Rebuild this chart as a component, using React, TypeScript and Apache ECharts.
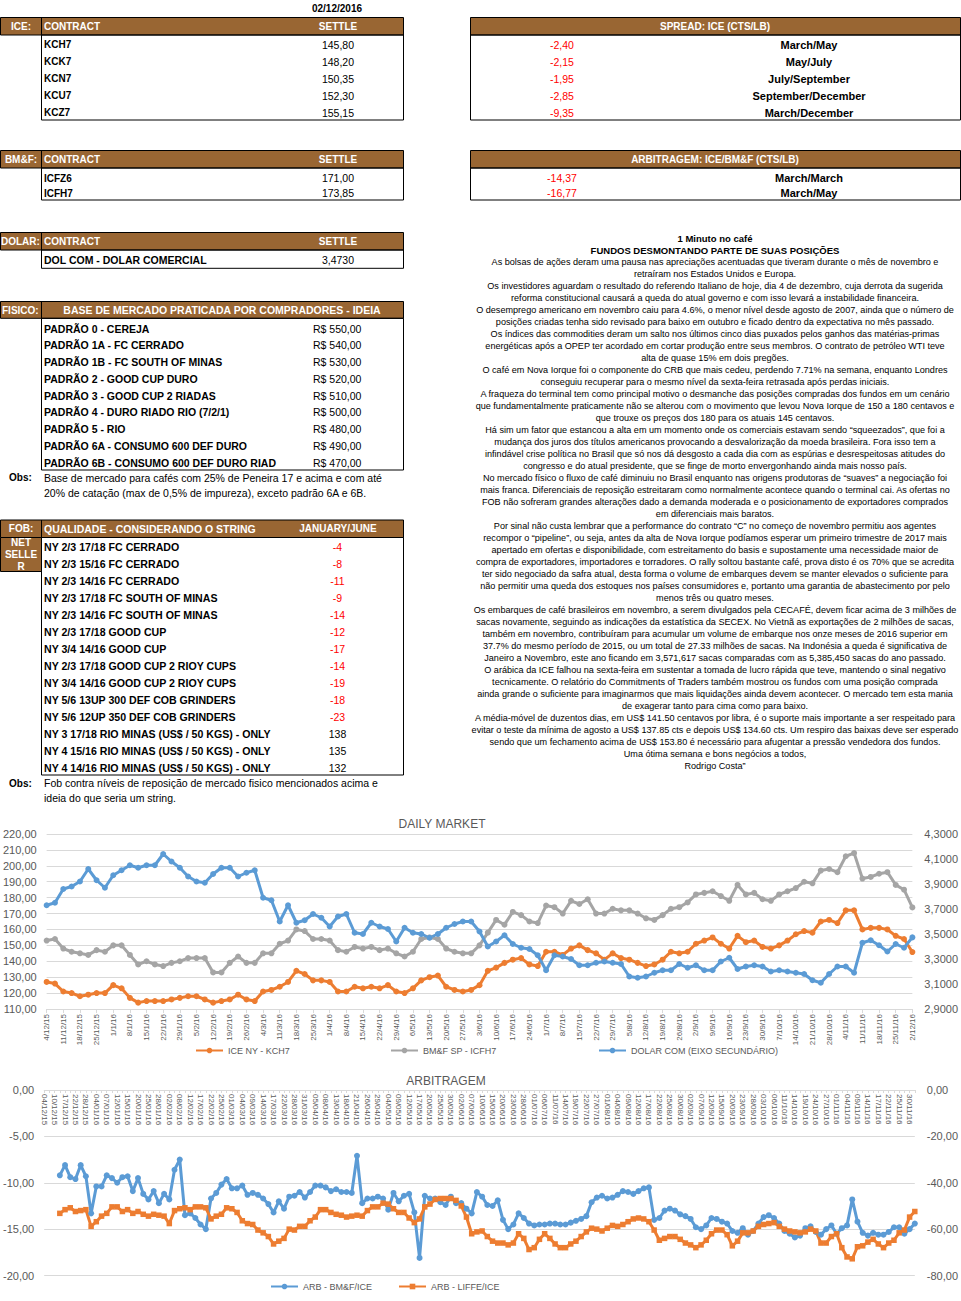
import React, { useEffect, useRef } from "react";
import * as echarts from "echarts";

const FONT = '"Liberation Sans", Arial, Helvetica, sans-serif';
const BROWN = "#996633";
const RED = "#ff0000";
const AXIS_TEXT = "#595959";
const GRID_LINE = "#d9d9d9";
const C_ORANGE = "#ed7d31";
const C_GRAY = "#a5a5a5";
const C_BLUE = "#5b9bd5";

const REPORT_DATE = "02/12/2016";

const ICE_CONTRACTS = ["KCH7", "KCK7", "KCN7", "KCU7", "KCZ7"];
const ICE_SETTLES = ["145,80", "148,20", "150,35", "152,30", "155,15"];
const SPREAD_VALUES = ["-2,40", "-2,15", "-1,95", "-2,85", "-9,35"];
const SPREAD_LABELS = ["March/May", "May/July", "July/September", "September/December", "March/December"];
const BMF_CONTRACTS = ["ICFZ6", "ICFH7"];
const BMF_SETTLES = ["171,00", "173,85"];
const ARB_TABLE_VALUES = ["-14,37", "-16,77"];
const ARB_TABLE_LABELS = ["March/March", "March/May"];
const DOLAR_CONTRACTS = ["DOL COM - DOLAR COMERCIAL"];
const DOLAR_SETTLES = ["3,4730"];

const FISICO_TYPES = [
  "PADRÃO 0 - CEREJA",
  "PADRÃO 1A - FC CERRADO",
  "PADRÃO 1B - FC SOUTH OF MINAS",
  "PADRÃO 2 - GOOD CUP DURO",
  "PADRÃO 3 - GOOD CUP 2 RIADAS",
  "PADRÃO 4 - DURO RIADO RIO (7/2/1)",
  "PADRÃO 5 - RIO",
  "PADRÃO 6A - CONSUMO 600 DEF DURO",
  "PADRÃO 6B - CONSUMO 600 DEF DURO RIADO",
];
const FISICO_PRICES = [550, 540, 530, 520, 510, 500, 480, 490, 470];
const FISICO_OBS = [
  "Base de mercado para cafés com 25% de Peneira 17 e acima e com até",
  "20% de catação (max de 0,5% de impureza), exceto padrão 6A e 6B.",
];

const FOB_QUALITIES = [
  "NY 2/3 17/18 FC CERRADO",
  "NY 2/3 15/16 FC CERRADO",
  "NY 2/3 14/16 FC CERRADO",
  "NY 2/3 17/18 FC SOUTH OF MINAS",
  "NY 2/3 14/16 FC SOUTH OF MINAS",
  "NY 2/3 17/18 GOOD CUP",
  "NY 3/4 14/16 GOOD CUP",
  "NY 2/3 17/18 GOOD CUP 2 RIOY CUPS",
  "NY 3/4 14/16 GOOD CUP 2 RIOY CUPS",
  "NY 5/6 13UP 300 DEF COB GRINDERS",
  "NY 5/6 12UP 350 DEF COB GRINDERS",
  "NY 3 17/18 RIO MINAS (US$ / 50 KGS) - ONLY",
  "NY 4 15/16 RIO MINAS (US$ / 50 KGS) - ONLY",
  "NY 4 14/16 RIO MINAS (US$ / 50 KGS) - ONLY",
];
const FOB_DIFFS = [-4, -8, -11, -9, -14, -12, -17, -14, -19, -18, -23, 138, 135, 132];
const FOB_OBS = [
  "Fob contra níveis de reposição de mercado fisico mencionados acima e",
  "ideia do que seria um string.",
];

const NEWS_TITLE = ["1 Minuto no café", "FUNDOS DESMONTANDO PARTE DE SUAS POSIÇÕES"];
const NEWS_LINES = [
  "As bolsas de ações deram uma pausa nas apreciações acentuadas que tiveram durante o mês de novembro e",
  "retraíram nos Estados Unidos e Europa.",
  "Os investidores aguardam o resultado do referendo Italiano de hoje, dia 4 de dezembro, cuja derrota da sugerida",
  "reforma constitucional causará a queda do atual governo e com isso levará a instabilidade financeira.",
  "O desemprego americano em novembro caiu para 4.6%, o menor nível desde agosto de 2007, ainda que o número de",
  "posições criadas tenha sido revisado para baixo em outubro e ficado dentro da expectativa no mês passado.",
  "Os índices das commodities deram um salto nos últimos cinco dias puxados pelos ganhos das matérias-primas",
  "energéticas após a OPEP ter acordado em cortar produção entre seus membros. O contrato de petróleo WTI teve",
  "alta de quase 15% em dois pregões.",
  "O café em Nova Iorque foi o componente do CRB que mais cedeu, perdendo 7.71% na semana, enquanto Londres",
  "conseguiu recuperar para o mesmo nível da sexta-feira retrasada após perdas iniciais.",
  "A fraqueza do terminal tem como principal motivo o desmanche das posições compradas dos fundos em um cenário",
  "que fundamentalmente praticamente não se alterou com o movimento que levou Nova Iorque de 150 a 180 centavos e",
  "que trouxe os preços dos 180 para os atuais 145 centavos.",
  "Há sim um fator que estancou a alta em um momento onde os comerciais estavam sendo “squeezados”, que foi a",
  "mudança dos juros dos títulos americanos provocando a desvalorização da moeda brasileira. Fora isso tem a",
  "infindável crise política no Brasil que só nos dá desgosto a cada dia com as espúrias e desrespeitosas atitudes do",
  "congresso e do atual presidente, que se finge de morto envergonhando ainda mais nosso país.",
  "No mercado físico o fluxo de café diminuiu no Brasil enquanto nas origens produtoras de “suaves” a negociação foi",
  "mais franca. Diferenciais de reposição estreitaram como normalmente acontece quando o terminal cai. As ofertas no",
  "FOB não sofreram grandes alterações dado a demanda moderada e o posicionamento de exportadores comprados",
  "em diferenciais mais baratos.",
  "Por sinal não custa lembrar que a performance do contrato “C” no começo de novembro permitiu aos agentes",
  "recompor o “pipeline”, ou seja, antes da alta de Nova Iorque podíamos esperar um primeiro trimestre de 2017 mais",
  "apertado em ofertas e disponibilidade, com estreitamento do basis e supostamente uma necessidade maior de",
  "compra de exportadores, importadores e torradores. O rally soltou bastante café, prova disto é os 70% que se acredita",
  "ter sido negociado da safra atual, desta forma o volume de embarques devem se manter elevados o suficiente para",
  "não permitir uma queda dos estoques nos países consumidores e, portanto uma garantia de abastecimento por pelo",
  "menos três ou quatro meses.",
  "Os embarques de café brasileiros em novembro, a serem divulgados pela CECAFÉ, devem ficar acima de 3 milhões de",
  "sacas novamente, seguindo as indicações da estatística da SECEX. No Vietnã as exportações de 2 milhões de sacas,",
  "também em novembro, contribuíram para acumular um volume de embarque nos onze meses de 2016 superior em",
  "37.7% do mesmo período de 2015, ou um total de 27.33 milhões de sacas. Na Indonésia a queda é significativa de",
  "Janeiro a Novembro, este ano ficando em 3,571,617 sacas comparadas com as 5,385,450 sacas do ano passado.",
  "O arábica da ICE falhou na sexta-feira em sustentar a tomada de lucro rápida que teve, mantendo o sinal negativo",
  "tecnicamente. O relatório do Commitments of Traders também mostrou os fundos com uma posição comprada",
  "ainda grande o suficiente para imaginarmos que mais liquidações ainda devem acontecer. O mercado tem esta mania",
  "de exagerar tanto para cima como para baixo.",
  "A média-móvel de duzentos dias, em US$ 141.50 centavos por libra, é o suporte mais importante a ser respeitado para",
  "evitar o teste da mínima de agosto a US$ 137.85 cts e depois US$ 134.60 cts. Um respiro das baixas deve ser esperado",
  "sendo que um fechamento acima de US$ 153.80 é necessário para afugentar a pressão vendedora dos fundos.",
  "Uma ótima semana e bons negócios a todos,",
  "Rodrigo Costa”",
];

// ---------- DAILY MARKET (samples twice a week, from 4/12/15) ----------
const DAILY_START_UTC = Date.UTC(2015, 11, 4);
const DAILY_SAMPLE_STEP_DAYS = 3.5;
const DAILY_SPAN_DAYS = 364;

const ICE_KCH7 = [
  127, 126, 121, 120, 118, 119, 120, 120, 125, 123,
  117, 114, 115, 115, 115, 116, 117, 118, 118, 116,
  114, 115, 116, 119, 116, 115, 121, 122, 124, 127,
  134, 132, 128, 128, 127, 121, 121, 124, 123, 124,
  123, 125, 121, 120, 123, 128, 130, 131, 124, 122,
  121, 122, 125, 134, 136, 139, 141, 142, 138, 137,
  146, 146, 144, 148, 150, 147, 145, 141, 145, 142,
  141, 139, 137, 138, 141, 146, 145, 146, 151, 153,
  155, 151, 148, 156, 152, 153, 149, 148, 150, 153,
  157, 159, 158, 165, 166, 164, 172, 172, 160, 161,
  161, 160, 156, 154, 145.8,
];
const BMF_ICFH7 = [
  153, 154, 148, 146, 145, 144, 147, 146, 150, 150,
  144, 138, 140, 138, 137, 139, 140, 142, 142, 142,
  133, 133, 139, 143, 139, 139, 145, 145, 151, 153,
  160, 159, 154, 154, 153, 147, 146, 149, 148, 149,
  147, 148, 145, 143, 146, 154, 155, 154, 148, 146,
  145, 145, 150, 158, 166, 163, 171, 169, 165, 164,
  175, 174, 170, 178, 176, 179, 170, 170, 173, 172,
  172, 170, 167, 166, 169, 173, 174, 177, 182, 183,
  184, 181, 178, 188, 182, 183, 179, 178, 182, 184,
  186, 190, 189, 197, 198, 196, 206, 208, 192, 193,
  195, 196, 188, 185, 173.85,
];
const DOLAR_COM = [
  3.73, 3.75, 3.86, 3.88, 3.92, 4.02, 3.93, 3.87, 3.97, 4.01,
  4.05, 4.03, 4.05, 4.05, 4.14, 4.08, 4.03, 3.96, 3.92, 3.91,
  3.98, 4.03, 4.03, 3.96, 3.99, 4.01, 3.79, 3.77, 3.60, 3.73,
  3.59, 3.61, 3.66, 3.63, 3.56, 3.64, 3.66, 3.51, 3.50, 3.59,
  3.56, 3.54, 3.44, 3.55, 3.51, 3.50, 3.47, 3.50, 3.55, 3.58,
  3.60, 3.60, 3.52, 3.40, 3.44, 3.49, 3.42, 3.39, 3.38, 3.33,
  3.21, 3.33, 3.32, 3.30, 3.25, 3.25, 3.27, 3.28, 3.27, 3.26,
  3.16, 3.15, 3.16, 3.19, 3.21, 3.21, 3.26, 3.23, 3.25, 3.21,
  3.21, 3.28, 3.31, 3.22, 3.24, 3.25, 3.24, 3.20, 3.21, 3.20,
  3.19, 3.18, 3.13, 3.11, 3.18, 3.24, 3.24, 3.19, 3.43, 3.45,
  3.41, 3.36, 3.42, 3.39, 3.473,
];

// ---------- ARBITRAGEM ----------
const ARB_DATES = [
  "04/12/15", "10/12/15", "17/12/15", "22/12/15", "28/12/15", "04/01/16", "07/01/16", "12/01/16", "15/01/16", "20/01/16",
  "25/01/16", "28/01/16", "02/02/16", "08/02/16", "12/02/16", "17/02/16", "22/02/16", "25/02/16", "01/03/16", "04/03/16",
  "09/03/16", "14/03/16", "17/03/16", "22/03/16", "28/03/16", "31/03/16", "05/04/16", "08/04/16", "13/04/16", "18/04/16",
  "21/04/16", "26/04/16", "29/04/16", "04/05/16", "09/05/16", "12/05/16", "17/05/16", "20/05/16", "25/05/16", "30/05/16",
  "02/06/16", "07/06/16", "10/06/16", "15/06/16", "20/06/16", "23/06/16", "28/06/16", "01/07/16", "06/07/16", "11/07/16",
  "14/07/16", "19/07/16", "22/07/16", "27/07/16", "01/08/16", "04/08/16", "09/08/16", "12/08/16", "17/08/16", "22/08/16",
  "25/08/16", "30/08/16", "02/09/16", "07/09/16", "12/09/16", "15/09/16", "20/09/16", "23/09/16", "28/09/16", "03/10/16",
  "06/10/16", "11/10/16", "14/10/16", "19/10/16", "24/10/16", "27/10/16", "01/11/16", "04/11/16", "09/11/16", "14/11/16",
  "17/11/16", "22/11/16", "25/11/16", "30/11/16",
];
// one unlabeled session between labelled ones
const ARB_BMF_ICE = [
  null, null, null, -9.2, -8.1, -9.4, -9.6, -8.1, -9.3, -13.3,
  -10.4, -10.4, -9.2, -9.5, -10.0, -9.4, -9.3, -10.9, -9.5, -11.2,
  -11.8, -10.9, -12.2, -11.2, -11.8, -8.6, -7.5, -13.5, -13.3, -13.8,
  -14.5, -15.0, -11.7, -11.1, -10.2, -9.6, -10.6, -10.6, -10.3, -11.3,
  -11.1, -11.3, -11.7, -12.3, -13.2, -12.0, -12.8, -11.5, -11.4, -11.0,
  -11.6, -11.0, -10.3, -10.3, -10.5, -10.9, -10.7, -11.0, -11.0, -11.1,
  -7.1, -12.2, -11.7, -11.7, -11.5, -11.7, -12.9, -11.1, -12.0, -11.4,
  -11.2, -13.2, -18.1, -11.4, -11.7, -11.7, -12.1, -12.4, -11.5, -12.2,
  -12.2, -12.8, -13.3, -11.0, -11.5, -12.4, -12.5, -11.9, -14.0, -15.0,
  -14.5, -13.3, -13.8, -14.4, -14.6, -14.5, -14.5, -14.4, -14.4, -14.5,
  -14.5, -14.3, -14.1, -13.9, -13.6, -12.1, -11.6, -11.4, -11.7, -11.6,
  -11.3, -10.9, -11.0, -11.2, -10.9, -10.6, -10.5, -14.0, -13.8, -13.0,
  -12.8, -13.0, -13.4, -13.6, -13.9, -14.8, -15.0, -14.6, -13.8, -13.9,
  -14.2, -14.4, -15.2, -15.4, -14.9, -15.6, -15.2, -14.4, -13.7, -13.5,
  -13.8, -14.4, -15.2, -15.5, -15.9, -15.7, -14.9, -14.7, -15.3, -15.6,
  -15.0, -14.6, -15.5, -14.9, -14.6, -11.8, -14.2, -15.4, -15.7, -15.4,
  -15.6, -15.6, -15.3, -14.8, -14.8, -15.5, -15.0, -14.4,
];
const ARB_LIFFE_ICE = [
  null, null, null, -53.2, -51.6, -50.8, -52.4, -52.0, -51.6, -58.8,
  -56.8, -54.4, -53.2, -50.4, -50.4, -52.4, -51.6, -53.2, -52.4, -53.6,
  -54.4, -53.6, -54.0, -54.4, -57.6, -52.0, -51.2, -50.8, -51.6, -50.4,
  -50.4, -50.8, -55.6, -54.4, -53.6, -50.8, -51.2, -52.8, -56.4, -57.6,
  -58.0, -60.4, -61.6, -63.2, -66.4, -65.2, -64.0, -60.0, -60.4, -58.8,
  -58.8, -56.4, -54.8, -51.6, -51.6, -52.8, -53.6, -54.0, -54.8, -54.4,
  -54.0, -54.4, -52.0, -50.4, -50.4, -48.8, -49.2, -51.2, -52.8, -52.8,
  -55.2, -57.2, -55.6, -50.4, -49.2, -47.2, -46.8, -46.8, -46.8, -47.6,
  -50.0, -54.8, -62.0, -61.2, -60.8, -63.2, -65.2, -66.0, -66.0, -66.8,
  -66.0, -62.0, -64.0, -68.8, -68.0, -64.4, -62.0, -64.0, -66.4, -68.0,
  -68.0, -66.4, -65.2, -63.2, -61.2, -59.6, -60.0, -60.8, -59.6, -58.4,
  -58.8, -58.0, -56.8, -55.6, -55.2, -55.6, -56.8, -60.4, -64.8, -64.0,
  -63.2, -63.2, -64.4, -66.0, -66.8, -68.0, -66.8, -64.8, -62.0, -60.4,
  -60.4, -62.4, -67.2, -65.2, -61.6, -61.6, -60.8, -58.8, -58.0, -57.6,
  -57.2, -58.8, -60.0, -60.8, -61.2, -61.6, -61.2, -60.0, -60.8, -66.0,
  -66.0, -63.2, -62.0, -68.0, -72.0, -72.8, -67.6, -67.2, -65.6, -64.4,
  -66.4, -68.0, -66.0, -64.8, -61.6, -60.4, -54.8, -52.4,
];

// ---------- helpers ----------
const fmtComma = (v: number, d: number) => v.toFixed(d).replace(".", ",");
const fmtDay = (v: number) => {
  const d = new Date(DAILY_START_UTC + Math.round(v) * 86400000);
  return `${d.getUTCDate()}/${d.getUTCMonth() + 1}/${String(d.getUTCFullYear()).slice(2)}`;
};

type TOpt = { size?: number; bold?: boolean; fill?: string; align?: string; width?: number };

function buildGraphics() {
  const rects: any[] = [];
  const texts: any[] = [];
  const R = (x: number, y: number, w: number, h: number, fill: string, stroke?: string) =>
    rects.push({
      type: "rect",
      silent: true,
      shape: { x, y, width: w, height: h },
      style: { fill, stroke: stroke || null, lineWidth: 1 },
    });
  const L = (x1: number, y1: number, x2: number, y2: number, stroke = "#000") =>
    rects.push({ type: "line", silent: true, shape: { x1, y1, x2, y2 }, style: { stroke, lineWidth: 1 } });
  const T = (text: string, x: number, y: number, o: TOpt = {}) => {
    const style: any = {
      text,
      fill: o.fill || "#000",
      fontSize: o.size || 10,
      fontWeight: o.bold ? "bold" : "normal",
      fontFamily: FONT,
      align: o.align || "left",
      verticalAlign: "middle",
    };
    if (o.width) {
      style.width = o.width;
      style.overflow = "truncate";
      style.ellipsis = "";
    }
    texts.push({ type: "text", silent: true, x, y, style });
  };
  const W = "#ffffff";

  // date
  T(REPORT_DATE, 337, 8, { bold: true, align: "center" });

  // ICE table
  R(0.5, 17.5, 403, 17.5, BROWN, "#000");
  L(41.5, 17.5, 41.5, 35);
  R(41.5, 35, 362, 85, "none", "#000");
  T("ICE:", 21, 26.3, { bold: true, fill: W, align: "center" });
  T("CONTRACT", 44, 26.3, { bold: true, fill: W });
  T("SETTLE", 338, 26.3, { bold: true, fill: W, align: "center" });
  ICE_CONTRACTS.forEach((c, i) => {
    const y = 44.5 + 17 * i;
    T(c, 44, y, { bold: true });
    T(ICE_SETTLES[i], 338, y, { size: 10.5, align: "center" });
  });

  // Spread table
  R(470.5, 17.5, 490, 17.5, BROWN, "#000");
  R(470.5, 35, 490, 85, "none", "#000");
  T("SPREAD: ICE (CTS/LB)", 715, 26.3, { bold: true, fill: W, align: "center" });
  SPREAD_VALUES.forEach((v, i) => {
    const y = 44.5 + 17 * i;
    T(v, 562, y, { size: 10.5, fill: RED, align: "center" });
    T(SPREAD_LABELS[i], 809, y, { bold: true, size: 11, align: "center" });
  });

  // BM&F table
  R(0.5, 150.5, 403, 17.5, BROWN, "#000");
  L(41.5, 150.5, 41.5, 168);
  R(41.5, 168, 362, 32, "none", "#000");
  T("BM&F:", 21, 159.3, { bold: true, fill: W, align: "center" });
  T("CONTRACT", 44, 159.3, { bold: true, fill: W });
  T("SETTLE", 338, 159.3, { bold: true, fill: W, align: "center" });
  BMF_CONTRACTS.forEach((c, i) => {
    const y = 178.3 + 15 * i;
    T(c, 44, y, { bold: true });
    T(BMF_SETTLES[i], 338, y, { size: 10.5, align: "center" });
  });

  // Arbitragem table
  R(470.5, 150.5, 490, 17.5, BROWN, "#000");
  R(470.5, 168, 490, 32, "none", "#000");
  T("ARBITRAGEM: ICE/BM&F (CTS/LB)", 715, 159.3, { bold: true, fill: W, align: "center" });
  ARB_TABLE_VALUES.forEach((v, i) => {
    const y = 178.3 + 14.5 * i;
    T(v, 562, y, { size: 10.5, fill: RED, align: "center" });
    T(ARB_TABLE_LABELS[i], 809, y, { bold: true, size: 11, align: "center" });
  });

  // Dolar table
  R(0.5, 232.5, 403, 17.5, BROWN, "#000");
  L(41.5, 232.5, 41.5, 250);
  R(41.5, 250, 362, 18.3, "none", "#000");
  T("DOLAR:", 1, 241.3, { bold: true, fill: W });
  T("CONTRACT", 44, 241.3, { bold: true, fill: W });
  T("SETTLE", 338, 241.3, { bold: true, fill: W, align: "center" });
  DOLAR_CONTRACTS.forEach((c, i) => {
    T(c, 44, 259.5, { bold: true, size: 10.5 });
    T(DOLAR_SETTLES[i], 338, 259.5, { size: 10.5, align: "center" });
  });

  // Fisico table
  R(0.5, 301.5, 403, 16.8, BROWN, "#000");
  L(41.5, 301.5, 41.5, 318.3);
  R(41.5, 318.3, 362, 151.7, "none", "#000");
  T("FISICO:", 2, 310, { bold: true, fill: W });
  T("BASE DE MERCADO PRATICADA POR COMPRADORES - IDEIA", 222, 310, { bold: true, size: 10.5, fill: W, align: "center" });
  FISICO_TYPES.forEach((t, i) => {
    const y = 328.5 + 16.75 * i;
    T(t, 44, y, { bold: true, size: 10.5, width: 236 });
    T("R$ " + fmtComma(FISICO_PRICES[i], 2), 313, y, { size: 10.5 });
  });
  T("Obs:", 9, 477.7, { bold: true });
  FISICO_OBS.forEach((t, i) => T(t, 44, 477.7 + 15 * i, { size: 10.5 }));

  // FOB table
  R(0.5, 520, 403, 17.5, BROWN, "#000");
  L(41.5, 520, 41.5, 537.5);
  R(0.5, 537.5, 41, 34, BROWN, "#000");
  R(41.5, 537.5, 362, 237.5, "none", "#000");
  T("FOB:", 21, 528.8, { bold: true, fill: W, align: "center" });
  T("QUALIDADE - CONSIDERANDO O STRING", 44, 528.8, { bold: true, size: 10.5, fill: W });
  T("JANUARY/JUNE", 338, 528.8, { bold: true, fill: W, align: "center" });
  ["NET", "SELLE", "R"].forEach((t, i) => T(t, 21, 542.7 + 11.7 * i, { bold: true, fill: W, align: "center" }));
  FOB_QUALITIES.forEach((q, i) => {
    const y = 547.3 + 17 * i;
    T(q, 44, y, { bold: true, size: 10.6 });
    const d = FOB_DIFFS[i];
    T(String(d), 337.5, y, { size: 10.5, fill: d < 0 ? RED : "#000", align: "center" });
  });
  T("Obs:", 9, 783.3, { bold: true });
  FOB_OBS.forEach((t, i) => T(t, 44, 783.3 + 15 * i, { size: 10.5 }));

  // News column
  NEWS_TITLE.forEach((t, i) => T(t, 715, 238 + 12 * i, { bold: true, size: 9.5, align: "center" }));
  NEWS_LINES.forEach((t, i) => T(t, 715, 262 + 12 * i, { size: 9.1, align: "center" }));

  // chart titles
  T("DAILY MARKET", 442, 824, { size: 12, fill: AXIS_TEXT, align: "center" });
  T("ARBITRAGEM", 446, 1081, { size: 12, fill: AXIS_TEXT, align: "center" });

  return [...rects, ...texts];
}

function buildOption() {
  const dailyX = (i: number) => i * DAILY_SAMPLE_STEP_DAYS;
  const arbCategories: string[] = [];
  ARB_DATES.forEach((d) => {
    arbCategories.push(d);
    arbCategories.push("");
  });

  const axisLabelBase = { color: AXIS_TEXT, fontFamily: FONT };
  const lineSeries = (name: string, color: string, data: any[], xi: number, yi: number, symbol = "circle") => ({
    name,
    type: "line",
    xAxisIndex: xi,
    yAxisIndex: yi,
    data,
    symbol,
    symbolSize: symbol === "rect" ? 5.5 : 6,
    showSymbol: true,
    showAllSymbol: true,
    connectNulls: false,
    lineStyle: { width: 3, color },
    itemStyle: { color },
    emphasis: { disabled: true },
  });
  const legendBase = {
    padding: 0,
    itemWidth: 27,
    itemHeight: 7,
    selectedMode: false,
    textStyle: { fontSize: 9, color: AXIS_TEXT, fontFamily: FONT },
  };

  return {
    animation: false,
    backgroundColor: "#ffffff",
    textStyle: { fontFamily: FONT },
    grid: [
      { left: 46, top: 834, width: 867, height: 175 },
      { left: 44, top: 1090, width: 871, height: 185.5 },
    ],
    xAxis: [
      {
        type: "value",
        gridIndex: 0,
        min: 0,
        max: DAILY_SPAN_DAYS,
        interval: 7,
        axisLine: { onZero: false, lineStyle: { color: GRID_LINE } },
        axisTick: { show: true, length: 4, lineStyle: { color: GRID_LINE } },
        splitLine: { show: false },
        axisLabel: { ...axisLabelBase, fontSize: 8, rotate: 90, margin: 5, formatter: fmtDay, showMinLabel: true, showMaxLabel: true },
      },
      {
        type: "category",
        gridIndex: 1,
        position: "top",
        data: arbCategories,
        boundaryGap: false,
        axisLine: { onZero: false, lineStyle: { color: GRID_LINE } },
        axisTick: { show: true, inside: true, length: 3, interval: 0, lineStyle: { color: GRID_LINE } },
        splitLine: { show: false },
        axisLabel: { ...axisLabelBase, fontSize: 8, rotate: 90, inside: true, interval: 1, margin: 4 },
      },
    ],
    yAxis: [
      {
        type: "value",
        gridIndex: 0,
        position: "left",
        min: 110,
        max: 220,
        interval: 10,
        axisLine: { show: false, onZero: false },
        axisTick: { show: false },
        splitLine: { lineStyle: { color: GRID_LINE } },
        axisLabel: { ...axisLabelBase, fontSize: 11, margin: 10, formatter: (v: number) => fmtComma(v, 2) },
      },
      {
        type: "value",
        gridIndex: 0,
        position: "right",
        min: 2.9,
        max: 4.3,
        interval: 0.2,
        axisLine: { show: false, onZero: false },
        axisTick: { show: false },
        splitLine: { show: false },
        axisLabel: { ...axisLabelBase, fontSize: 11, margin: 12, formatter: (v: number) => fmtComma(v, 4) },
      },
      {
        type: "value",
        gridIndex: 1,
        position: "left",
        min: -20,
        max: 0,
        interval: 5,
        axisLine: { show: false, onZero: false },
        axisTick: { show: false },
        splitLine: { lineStyle: { color: GRID_LINE } },
        axisLabel: { ...axisLabelBase, fontSize: 11, margin: 10, formatter: (v: number) => fmtComma(v, 2) },
      },
      {
        type: "value",
        gridIndex: 1,
        position: "right",
        min: -80,
        max: 0,
        interval: 20,
        axisLine: { show: false, onZero: false },
        axisTick: { show: false },
        splitLine: { show: false },
        axisLabel: { ...axisLabelBase, fontSize: 11, margin: 12, formatter: (v: number) => fmtComma(v, 2) },
      },
    ],
    legend: [
      { ...legendBase, data: ["ICE NY - KCH7"], left: 195, top: 1046 },
      { ...legendBase, data: ["BM&F SP - ICFH7"], left: 390, top: 1046 },
      { ...legendBase, data: ["DOLAR COM (EIXO SECUNDÁRIO)"], left: 598, top: 1046 },
      { ...legendBase, data: ["ARB - BM&F/ICE"], left: 270, top: 1282 },
      { ...legendBase, data: ["ARB - LIFFE/ICE"], left: 398, top: 1282 },
    ],
    series: [
      lineSeries("ICE NY - KCH7", C_ORANGE, ICE_KCH7.map((v, i) => [dailyX(i), v]), 0, 0),
      lineSeries("BM&F SP - ICFH7", C_GRAY, BMF_ICFH7.map((v, i) => [dailyX(i), v]), 0, 0),
      lineSeries("DOLAR COM (EIXO SECUNDÁRIO)", C_BLUE, DOLAR_COM.map((v, i) => [dailyX(i), v]), 0, 1),
      lineSeries("ARB - BM&F/ICE", C_BLUE, ARB_BMF_ICE, 1, 2),
      lineSeries("ARB - LIFFE/ICE", C_ORANGE, ARB_LIFFE_ICE, 1, 3, "rect"),
    ],
    graphic: { elements: buildGraphics() },
  };
}

export default function App() {
  const ref = useRef<HTMLDivElement>(null);
  useEffect(() => {
    document.body.style.margin = "0";
    const chart = echarts.init(ref.current!, null, { renderer: "svg" });
    chart.setOption(buildOption() as any);
    return () => chart.dispose();
  }, []);
  return <div ref={ref} style={{ width: 961, height: 1301 }} />;
}
